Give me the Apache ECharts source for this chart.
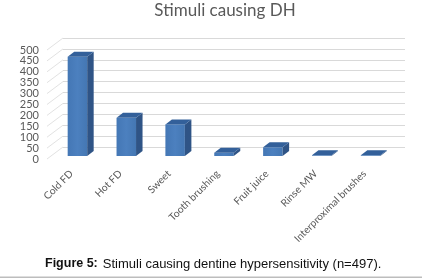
<!DOCTYPE html>
<html><head><meta charset="utf-8">
<style>html,body{margin:0;padding:0;background:#fff}#c{width:422px;height:278px}</style>
<script src="https://cdn.jsdelivr.net/npm/echarts@6/dist/echarts.min.js"></script>
</head><body><div id="c"></div>
<script>
const categories = ['Cold FD','Hot FD','Sweet','Tooth brushing','Fruit juice','Rinse MW','Interproximal brushes'];
const values = [455,175,145,15,40,3,3];
const ticks = [0,50,100,150,200,250,300,350,400,450,500];

const chart = echarts.init(document.getElementById('c'), null, {renderer:'canvas'});
const font = 'Lato, sans-serif';
chart.setOption({
  animation:false,
  backgroundColor:'#fff',
  title:[
    {text:'Stimuli causing DH',left:225,top:2,padding:0,textAlign:'center',
     textStyle:{fontFamily:font,fontSize:17,fontWeight:'normal',color:'#595959'}},
    {text:'{b|Figure 5:} {n|Stimuli causing dentine hypersensitivity (n=497).}',left:45,top:255,padding:0,
     textStyle:{fontWeight:'normal',rich:{
       b:{fontFamily:'"Liberation Sans"',fontSize:12.5,fontWeight:'bold',color:'#111'},
       n:{fontFamily:'"Liberation Sans"',fontSize:13,fontWeight:'normal',color:'#111'}}}}
  ],
  grid:[
    {left:63,top:38,width:342,height:109},
    {left:47,top:50,width:342,height:109}
  ],
  xAxis:[
    {gridIndex:0,type:'category',data:categories,axisLine:{show:false},axisTick:{show:false},axisLabel:{show:false},splitLine:{show:false}},
    {gridIndex:1,type:'category',data:categories,axisLine:{show:false},axisTick:{show:false},splitLine:{show:false},
     axisLabel:{interval:0,rotate:45,margin:13,fontFamily:font,fontSize:10.2,color:'#595959'}}
  ],
  yAxis:[
    {gridIndex:0,type:'value',min:0,max:500,interval:50,axisLine:{show:false},axisTick:{show:false},axisLabel:{show:false},
     splitLine:{show:true,lineStyle:{color:'#d9d9d9',width:1}}},
    {gridIndex:1,type:'value',min:0,max:500,interval:50,axisLine:{show:false},axisTick:{show:false},splitLine:{show:false},
     axisLabel:{margin:8,fontFamily:font,fontSize:11,color:'#595959'}}
  ],
  series:[
    {type:'custom',xAxisIndex:1,yAxisIndex:1,silent:true,z:1,clip:false,
     data:ticks.map(t=>[0,t]),encode:{y:1},
     renderItem:(p,api)=>{
       const size=api.size([1,0])[0];
       const a=api.coord([0,api.value(1)]);
       const x=a[0]-size/2;
       return {type:'line',shape:{x1:x,y1:a[1],x2:x+16,y2:a[1]-12},style:{stroke:'#e2e2e2',lineWidth:1}};
     }},
    {type:'custom',xAxisIndex:1,yAxisIndex:1,silent:true,z:3,clip:false,
     data:values.map((v,i)=>[i,v]),encode:{x:0,y:1},
     renderItem:(p,api)=>{
       const top=api.coord([api.value(0),api.value(1)]);
       const base=api.coord([api.value(0),0]);
       const w=19.5,ox=6,oy=-3,dx=6.5,dy=-5;
       const l=top[0]+ox-w/2,r=l+w,t=top[1]+oy,b=base[1]+oy;
       return {type:'group',children:[
         {type:'polygon',shape:{points:[[l,b],[r,b],[r,t],[l,t]]},
          style:{fill:new echarts.graphic.LinearGradient(0,0,1,0,[
            {offset:0,color:'#4477b5'},{offset:.5,color:'#4c80bf'},{offset:1,color:'#4477b3'}])}},
         {type:'polygon',shape:{points:[[r,b],[r+dx,b+dy],[r+dx,t+dy],[r,t]]},style:{fill:'#2f5486'}},
         {type:'polygon',shape:{points:[[l,t],[r,t],[r+dx,t+dy],[l+dx,t+dy]]},style:{fill:'#33609a'}}
       ]};
     }}
  ],
  graphic:[{type:'rect',shape:{x:0,y:276.5,width:422,height:1.5},style:{fill:'#bdbdbd'}}]
});
</script></body></html>
